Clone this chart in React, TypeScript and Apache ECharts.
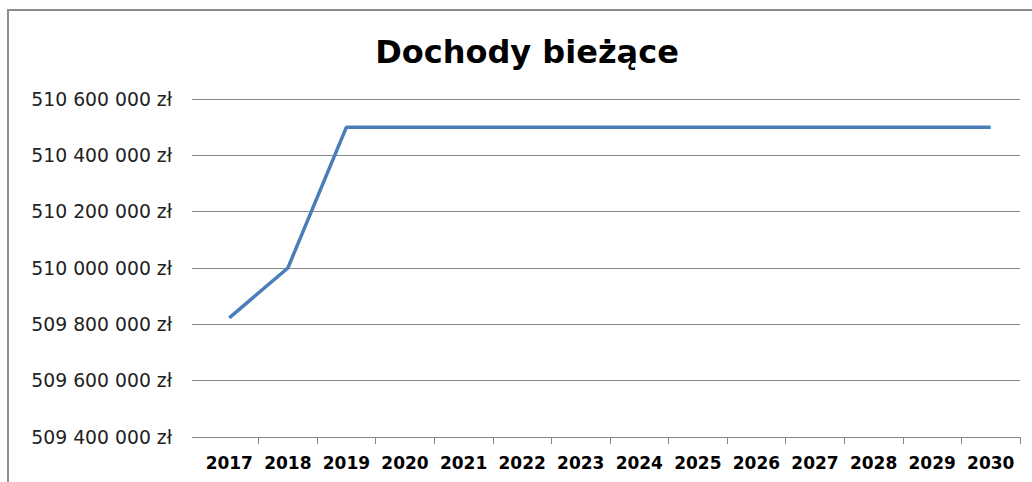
import React, { useEffect, useRef } from "react";
import * as echarts from "echarts";

const years = ["2017", "2018", "2019", "2020", "2021", "2022", "2023", "2024", "2025", "2026", "2027", "2028", "2029", "2030"];
const income = [509823000, 510000000, 510500000, 510500000, 510500000, 510500000, 510500000, 510500000, 510500000, 510500000, 510500000, 510500000, 510500000, 510500000];
const chartTitle = "Dochody bieżące";

function fmt(v: number): string {
  const s = Math.round(v).toString().replace(/\B(?=(\d{3})+(?!\d))/g, " ");
  return s + " zł";
}

export default function App() {
  const ref = useRef<HTMLDivElement>(null);
  useEffect(() => {
    if (!ref.current) return;
    const chart = echarts.init(ref.current, null, { renderer: "svg" });
    chart.setOption({
      animation: false,
      backgroundColor: "#ffffff",
      graphic: [
        {
          type: "rect",
          shape: { x: 8, y: 10, width: 1100, height: 600 },
          style: { fill: "none", stroke: "#8c8c8c", lineWidth: 2 },
          silent: true,
        },
        {
          type: "text",
          x: 527,
          y: 52,
          style: {
            text: chartTitle,
            font: "bold 32px 'DejaVu Sans'",
            fill: "#000000",
            textAlign: "center",
            textVerticalAlign: "middle",
          },
        },
      ],
      grid: { left: 200, right: 12, top: 99, bottom: 45, containLabel: false },
      xAxis: {
        type: "category",
        data: years,
        boundaryGap: true,
        axisLine: { show: true, lineStyle: { color: "#868686", width: 1 } },
        axisTick: {
          show: true,
          length: 7,
          alignWithLabel: false,
          interval: (i: number) => i !== 0,
          lineStyle: { color: "#868686" },
        },
        axisLabel: {
          interval: 0,
          margin: 17,
          color: "#000000",
          fontFamily: "DejaVu Sans",
          fontWeight: "bold",
          fontSize: 17,
        },
        splitLine: { show: false },
      },
      yAxis: {
        type: "value",
        min: 509400000,
        max: 510600000,
        interval: 200000,
        axisLine: { show: false },
        axisTick: { show: true, length: 8, lineStyle: { color: "#868686" } },
        axisLabel: {
          margin: 28,
          color: "#222222",
          fontFamily: "DejaVu Sans",
          fontSize: 18.8,
          formatter: (v: number) => fmt(v),
        },
        splitLine: { show: true, lineStyle: { color: "#868686", width: 1 } },
      },
      series: [
        {
          type: "line",
          data: income,
          showSymbol: false,
          symbol: "none",
          lineStyle: { color: "#4A7EBB", width: 3.5 },
          itemStyle: { color: "#4A7EBB" },
        },
      ],
    });
    return () => chart.dispose();
  }, []);
  return (
    <div
      ref={ref}
      style={{ position: "fixed", left: 0, top: 0, width: 1032, height: 482 }}
    />
  );
}
